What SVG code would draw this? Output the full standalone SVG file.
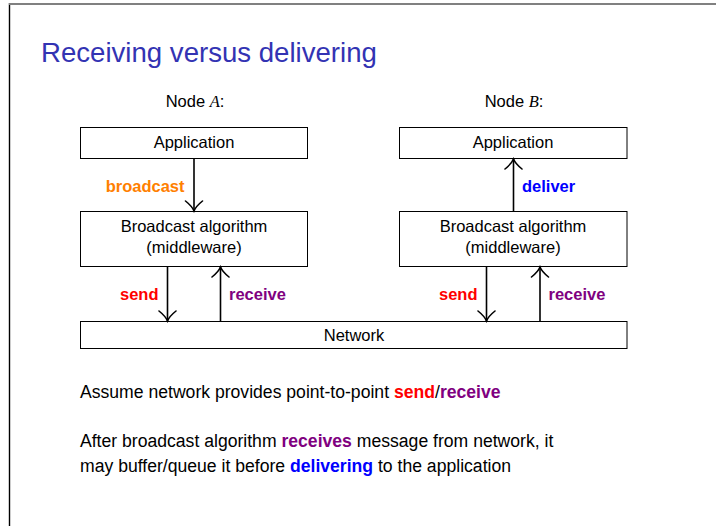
<svg xmlns="http://www.w3.org/2000/svg" width="716" height="526" viewBox="0 0 716 526">
<defs>
<style>
.box{fill:#fff;stroke:#000;stroke-width:1}
.lbl{font-family:"Liberation Sans",Arial,sans-serif;font-size:16.5px;fill:#000;text-anchor:middle}
.math{font-family:"Liberation Serif","Times New Roman",serif;font-style:italic}
.b{font-family:"Liberation Sans",Arial,sans-serif;font-size:16.5px;font-weight:bold}
.body{font-family:"Liberation Sans",Arial,sans-serif;font-size:17.6px;fill:#000}
.arr{stroke:#000;stroke-width:1.6;fill:none;marker-end:url(#ah)}
.orange{fill:#ff8000}.red{fill:#ff0000}.purple{fill:#800080}.blue{fill:#0000ff}
</style>
<marker id="ah" markerUnits="userSpaceOnUse" viewBox="-12 -10 14 20" markerWidth="14" markerHeight="20" refX="0" refY="0" orient="auto">
<path d="M -10 -8.5 C -6 -3.5 -2.5 -1 0 0 C -2.5 1 -6 3.5 -10 8.5" fill="none" stroke="#000" stroke-width="1.6" stroke-linecap="round"/>
</marker>
</defs>
<rect width="716" height="526" fill="#fff"/>
<line x1="9.5" y1="3" x2="9.5" y2="526" stroke="#000" stroke-width="1.4"/>
<line x1="9" y1="4" x2="716" y2="4" stroke="#808080" stroke-width="1.8"/>
<text x="41" y="62" font-family="'Liberation Sans',Arial,sans-serif" font-size="27.6" fill="#3333b3">Receiving versus delivering</text>

<text class="lbl" x="195" y="107">Node <tspan class="math">A</tspan>:</text>
<text class="lbl" x="514" y="107">Node <tspan class="math">B</tspan>:</text>

<g id="appA"><rect class="box" x="80.5" y="127.5" width="227" height="31"/><text class="lbl" x="194" y="147.5">Application</text></g>
<g id="bcA"><rect class="box" x="80.5" y="211.5" width="227" height="55"/><text class="lbl" x="194" y="232">Broadcast algorithm</text><text class="lbl" x="194" y="252.5">(middleware)</text></g>
<g id="appB"><rect class="box" x="399.5" y="127.5" width="227.5" height="31"/><text class="lbl" x="513" y="147.5">Application</text></g>
<g id="bcB"><rect class="box" x="399.5" y="211.5" width="227.5" height="55"/><text class="lbl" x="513" y="232">Broadcast algorithm</text><text class="lbl" x="513" y="252.5">(middleware)</text></g>
<g id="network"><rect class="box" x="80.5" y="321.5" width="546.5" height="27"/><text class="lbl" x="354" y="340.5">Network</text></g>

<g id="connectors">
<path class="arr" d="M194 158.5 V211"/>
<path class="arr" d="M513.5 211.5 V159"/>
<path class="arr" d="M167.5 266.5 V321"/>
<path class="arr" d="M220.5 321.5 V267"/>
<path class="arr" d="M486.5 266.5 V321"/>
<path class="arr" d="M540 321.5 V267"/>
<text class="b orange" x="184.5" y="191.5" text-anchor="end">broadcast</text>
<text class="b blue" x="522" y="191.5">deliver</text>
<text class="b red" x="158.5" y="300" text-anchor="end">send</text>
<text class="b purple" x="229" y="300">receive</text>
<text class="b red" x="477.5" y="300" text-anchor="end">send</text>
<text class="b purple" x="548.5" y="300">receive</text>
</g>

<text class="body" x="80" y="397.5">Assume network provides point-to-point <tspan font-weight="bold" class="red">send</tspan>/<tspan font-weight="bold" class="purple">receive</tspan></text>
<text class="body" x="80" y="447">After broadcast algorithm <tspan font-weight="bold" class="purple">receives</tspan> message from network, it</text>
<text class="body" x="80" y="472">may buffer/queue it before <tspan font-weight="bold" class="blue">delivering</tspan> to the application</text>
</svg>
